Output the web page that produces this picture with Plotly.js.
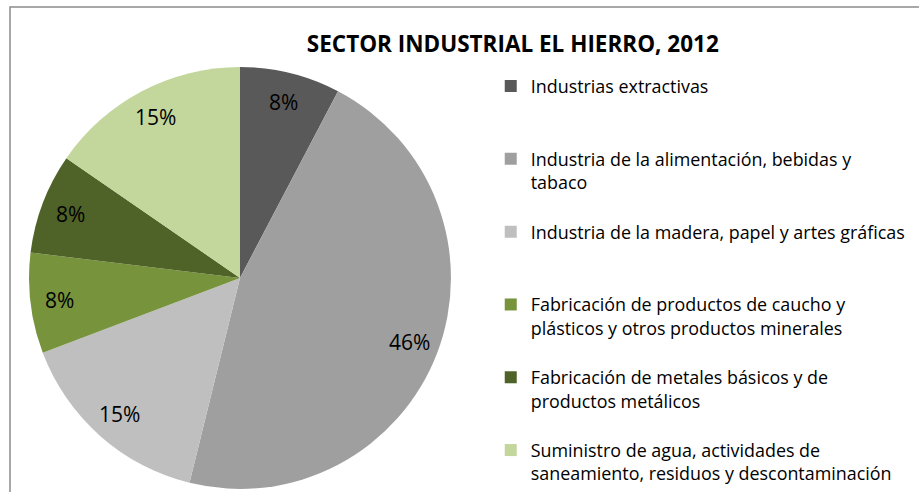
<!DOCTYPE html>
<html>
<head>
<meta charset="utf-8">
<script src="https://cdn.plot.ly/plotly-3.0.1.min.js"></script>
<style>html,body{margin:0;padding:0;background:#fff;}#chart{width:919px;height:492px;}</style>
</head>
<body>
<div id="chart"></div>
<script>
// Data
var categories = [
  "Industrias extractivas",
  "Industria de la alimentación, bebidas y<br>tabaco",
  "Industria de la madera, papel y artes gráficas",
  "Fabricación de productos de caucho y<br>plásticos y otros productos minerales",
  "Fabricación de metales básicos y de<br>productos metálicos",
  "Suministro de agua, actividades de<br>saneamiento, residuos y descontaminación"
];
var values = [1, 6, 2, 1, 1, 2];
var colors = ["#595959", "#9f9f9f", "#bfbfbf", "#77933c", "#4f6228", "#c3d69b"];
var chartTitle = "SECTOR INDUSTRIAL EL HIERRO, 2012";

var W = 919, H = 492;
var FONT = "'Open Sans', sans-serif";
var domX = [0.0316, 0.4907], domY = [0.006, 0.864];

// pad legend entries so that each occupies three lines (even spacing like the original)
var legendLabels = categories.map(function (c, i) {
  var n = c.split("<br>").length;
  if (i === categories.length - 1) return c;
  var s = c;
  for (var k = n; k < 3; k++) s += "<br>\u00a0";
  return s;
});

// percentage labels placed near the outer part of each slice (as in the original)
var total = values.reduce(function (a, b) { return a + b; }, 0);
var cx = (domX[0] + domX[1]) / 2 * W;
var cy = (1 - (domY[0] + domY[1]) / 2) * H;
var R = Math.min((domX[1] - domX[0]) * W, (domY[1] - domY[0]) * H) / 2;
var cum = 0;
var annotations = values.map(function (v) {
  var mid = (cum + v / 2) / total * 2 * Math.PI;
  cum += v;
  var px = cx + 0.86 * R * Math.sin(mid);
  var py = cy - 0.86 * R * Math.cos(mid);
  return {
    xref: "paper", yref: "paper",
    x: px / W, y: 1 - py / H,
    xanchor: "center", yanchor: "middle",
    text: Math.round(v / total * 100) + "%",
    showarrow: false,
    font: { family: FONT, size: 21, color: "#000" }
  };
});

var trace = {
  type: "pie",
  labels: legendLabels,
  values: values,
  marker: { colors: colors, line: { width: 0 } },
  sort: false,
  direction: "clockwise",
  rotation: 0,
  textinfo: "none",
  hoverinfo: "label+percent",
  domain: { x: domX, y: domY }
};

var layout = {
  width: W,
  height: H,
  margin: { l: 0, r: 0, t: 0, b: 0, autoexpand: false },
  paper_bgcolor: "#fff",
  plot_bgcolor: "#fff",
  font: { family: FONT, color: "#000" },
  title: {
    text: "<b>" + chartTitle + "</b>",
    font: { family: FONT, size: 22.5, color: "#000" },
    x: 0.558, xanchor: "center",
    y: 0.91, yanchor: "middle",
    xref: "paper", yref: "paper"
  },
  showlegend: true,
  legend: {
    x: 0.534, xanchor: "left",
    y: 0.862, yanchor: "top",
    valign: "top",
    font: { family: FONT, size: 17.9, color: "#000" },
    bgcolor: "rgba(0,0,0,0)",
    traceorder: "normal"
  },
  annotations: annotations,
  shapes: [{
    type: "rect", xref: "paper", yref: "paper",
    x0: 10 / W, x1: 1.02, y0: -0.02, y1: 1 - 7 / H,
    line: { color: "#8c8c8c", width: 1.5 }, fillcolor: "rgba(0,0,0,0)", layer: "below"
  }]
};

Plotly.newPlot("chart", [trace], layout, { displayModeBar: false, staticPlot: true });
</script>
</body>
</html>
